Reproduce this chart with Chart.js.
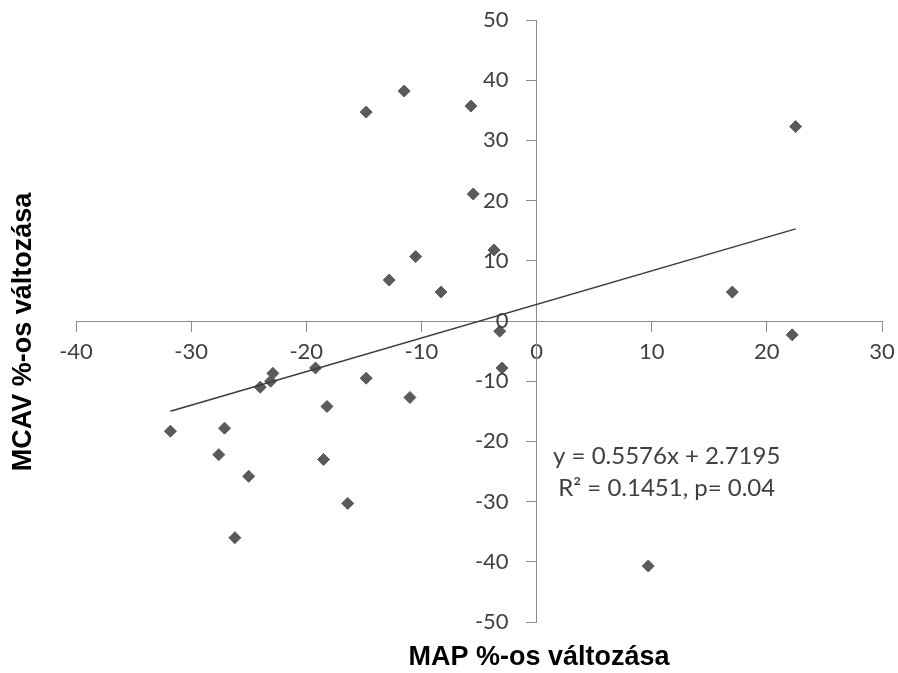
<!DOCTYPE html>
<html>
<head>
<meta charset="utf-8">
<script src="https://cdn.jsdelivr.net/npm/chart.js@4.4.0/dist/chart.umd.min.js"></script>
<style>
  html, body { margin: 0; padding: 0; background: #fff; }
  #wrap { width: 898px; height: 673px; }
</style>
</head>
<body>
<div id="wrap"><canvas id="chart"></canvas></div>
<script>
// MAP change (x) and MCAV change (y), percent
const mapChange = [-14.8, -11.5, -5.7, -5.5, -10.5, -12.8, -8.3, -3.7, -3.2, 22.5, 17.0, 22.2,
  -31.8, -27.1, -27.6, -25.0, -26.2, -24.0, -22.9, -23.1, -19.2, -14.8, -18.2, -18.5, -16.4, -11.0, -3.0, 9.7];
const mcavChange = [34.7, 38.2, 35.7, 21.1, 10.7, 6.8, 4.8, 11.8, -1.7, 32.3, 4.8, -2.3,
  -18.3, -17.8, -22.2, -25.8, -36.0, -11.0, -8.7, -10.0, -7.8, -9.5, -14.2, -23.0, -30.3, -12.7, -7.8, -40.7];

// trendline end points
const trendX = [-31.8, 22.5];
const trendY = [-15.0, 15.3];

const xTicks = [-40, -30, -20, -10, 0, 10, 20, 30];
const yTicks = [-50, -40, -30, -20, -10, 0, 10, 20, 30, 40, 50];

const xTitle = 'MAP %-os változása';
const yTitle = 'MCAV %-os változása';
const eqLines = ['y = 0.5576x + 2.7195', 'R² = 0.1451, p= 0.04'];

const fontFamily = 'Lato, "Open Sans", sans-serif';
const tickFont = { family: fontFamily, size: 22 };
const textColor = '#404040';
const axisColor = '#8c8c8c';

const points = mapChange.map((x, i) => ({ x: x, y: mcavChange[i] }));
const trend = trendX.map((x, i) => ({ x: x, y: trendY[i] }));

// y tick labels (offset from the crossing axis), axis titles, equation
const labelsPlugin = {
  id: 'labels',
  afterDraw(chart) {
    const ctx = chart.ctx;
    const xs = chart.scales.x, ys = chart.scales.y;
    const axisX = xs.getPixelForValue(0);

    ctx.save();
    ctx.fillStyle = textColor;
    ctx.font = '22px ' + fontFamily;
    ctx.textAlign = 'right';
    ctx.textBaseline = 'middle';
    yTicks.forEach(v => {
      ctx.fillText(String(v), axisX - 28, ys.getPixelForValue(v));
    });
    ctx.restore();

    ctx.save();
    ctx.fillStyle = '#000';
    ctx.font = 'bold 27px "Liberation Sans", Arial, sans-serif';
    ctx.textAlign = 'center';
    ctx.textBaseline = 'middle';
    ctx.fillText(xTitle, 539, 658);
    ctx.translate(24, 332);
    ctx.rotate(-Math.PI / 2);
    ctx.fillText(yTitle, 0, 0);
    ctx.restore();

    ctx.save();
    ctx.fillStyle = textColor;
    ctx.font = '24px ' + fontFamily;
    ctx.textAlign = 'center';
    ctx.textBaseline = 'middle';
    const cx = xs.getPixelForValue(11.3);
    ctx.fillText(eqLines[0], cx, ys.getPixelForValue(-22.5));
    ctx.fillText(eqLines[1], cx, ys.getPixelForValue(-27.8));
    ctx.restore();
  }
};

new Chart(document.getElementById('chart'), {
  type: 'scatter',
  data: {
    datasets: [
      {
        label: 'Lineáris',
        type: 'line',
        data: trend,
        borderColor: '#3a3a3a',
        borderWidth: 1.5,
        pointRadius: 0,
        fill: false
      },
      {
        label: 'MCAV',
        data: points,
        pointStyle: 'rectRot',
        pointRadius: 6,
        pointBackgroundColor: '#5a5a5a',
        pointBorderColor: '#5a5a5a',
        pointBorderWidth: 1
      }
    ]
  },
  options: {
    responsive: true,
    maintainAspectRatio: false,
    animation: false,
    layout: { padding: { left: 76, right: 16, top: 20, bottom: 51 } },
    plugins: {
      legend: { display: false },
      tooltip: { enabled: false }
    },
    scales: {
      x: {
        type: 'linear',
        position: { y: 0 },
        min: -40,
        max: 30,
        afterBuildTicks: s => { s.ticks = xTicks.map(v => ({ value: v })); },
        afterFit: s => { s.paddingLeft = 0; s.paddingRight = 0; },
        ticks: { color: textColor, font: tickFont, padding: 8, maxRotation: 0 },
        grid: { display: true, drawOnChartArea: false, drawTicks: true, tickLength: 10, color: axisColor },
        border: { display: true, color: axisColor, width: 1 }
      },
      y: {
        type: 'linear',
        position: { x: 0 },
        min: -50,
        max: 50,
        afterBuildTicks: s => { s.ticks = yTicks.map(v => ({ value: v })); },
        ticks: { display: false },
        grid: { display: true, drawOnChartArea: false, drawTicks: true, tickLength: 10, color: axisColor },
        border: { display: true, color: axisColor, width: 1 }
      }
    }
  },
  plugins: [labelsPlugin]
});
</script>
</body>
</html>
